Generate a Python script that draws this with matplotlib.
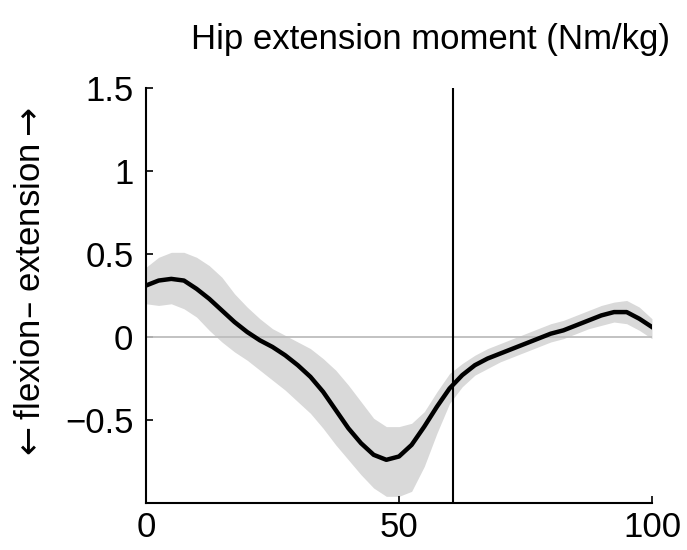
import numpy as np
import matplotlib
matplotlib.use('Agg')
import matplotlib.pyplot as plt

plt.rcParams['font.family'] = ['Liberation Sans', 'DejaVu Sans']

# % of gait cycle
pct = [0, 2.5, 5, 7.5, 10, 12.5, 15, 17.5, 20, 22.5, 25, 27.5, 30, 32.5, 35, 37.5, 40,
       42.5, 45, 47.5, 50, 52.5, 55, 57.5, 60, 62.5, 65, 67.5, 70, 72.5, 75, 77.5, 80,
       82.5, 85, 87.5, 90, 92.5, 95, 97.5, 100]

# mean hip extension moment (Nm/kg)
mean = [0.31, 0.34, 0.35, 0.34, 0.29, 0.23, 0.16, 0.09, 0.03, -0.02, -0.06, -0.11, -0.17,
        -0.24, -0.33, -0.44, -0.55, -0.64, -0.71, -0.74, -0.72, -0.65, -0.54, -0.42, -0.31,
        -0.23, -0.17, -0.13, -0.10, -0.07, -0.04, -0.01, 0.02, 0.04, 0.07, 0.10, 0.13, 0.15,
        0.15, 0.11, 0.06]

# upper / lower edge of the shaded band
upper = [0.42, 0.48, 0.51, 0.51, 0.48, 0.43, 0.36, 0.26, 0.18, 0.11, 0.05, 0.01, -0.03,
         -0.07, -0.13, -0.20, -0.29, -0.39, -0.49, -0.54, -0.54, -0.52, -0.45, -0.33, -0.22,
         -0.16, -0.11, -0.07, -0.04, -0.01, 0.02, 0.05, 0.08, 0.10, 0.13, 0.16, 0.19, 0.21,
         0.22, 0.18, 0.11]
lower = [0.20, 0.19, 0.20, 0.17, 0.12, 0.04, -0.03, -0.09, -0.14, -0.20, -0.26, -0.32, -0.39,
         -0.46, -0.55, -0.65, -0.74, -0.83, -0.91, -0.96, -0.96, -0.93, -0.78, -0.58, -0.40,
         -0.30, -0.23, -0.19, -0.15, -0.12, -0.09, -0.06, -0.03, -0.01, 0.02, 0.05, 0.07, 0.09,
         0.08, 0.04, -0.01]

toe_off = 60.6

xticks = [0, 50, 100]
yticks = [-0.5, 0, 0.5, 1, 1.5]
yticklabels = ['\u22120.5', '0', '0.5', '1', '1.5']

fig = plt.figure(figsize=(6.87, 5.5), dpi=100)
ax = fig.add_axes([0.2125, 0.0855, 0.7365, 0.7545])

ax.fill_between(pct, lower, upper, color='#d9d9d9', lw=0, zorder=1)
ax.axhline(0, color='#bdbdbd', lw=1.3, zorder=2)
ax.axvline(toe_off, color='black', lw=1.5, zorder=3)
ax.plot(pct, mean, color='black', lw=3.2, zorder=4, solid_joinstyle='round')

ax.set_xlim(0, 100)
ax.set_ylim(-1, 1.5)
ax.set_xticks(xticks)
ax.set_yticks(yticks)
ax.set_yticklabels(yticklabels)

for s in ['top', 'right']:
    ax.spines[s].set_visible(False)
for s in ['left', 'bottom']:
    ax.spines[s].set_linewidth(1.5)

ax.tick_params(direction='in', length=5, width=1.2, labelsize=25)
ax.tick_params(axis='y', pad=9)
ax.tick_params(axis='x', pad=6)

fig.text(0.626, 1 - 40 / 550, 'Hip extension moment (Nm/kg)', ha='center', va='center',
         fontsize=25)
# arrows via mathtext so they come out full size
fig.text(0.044, 0.482, r'$\leftarrow$flexion' + '\u2013 extension' + r'$\rightarrow$',
         rotation=90, ha='center', va='center', fontsize=25)

fig.savefig('out.png', dpi=100)
